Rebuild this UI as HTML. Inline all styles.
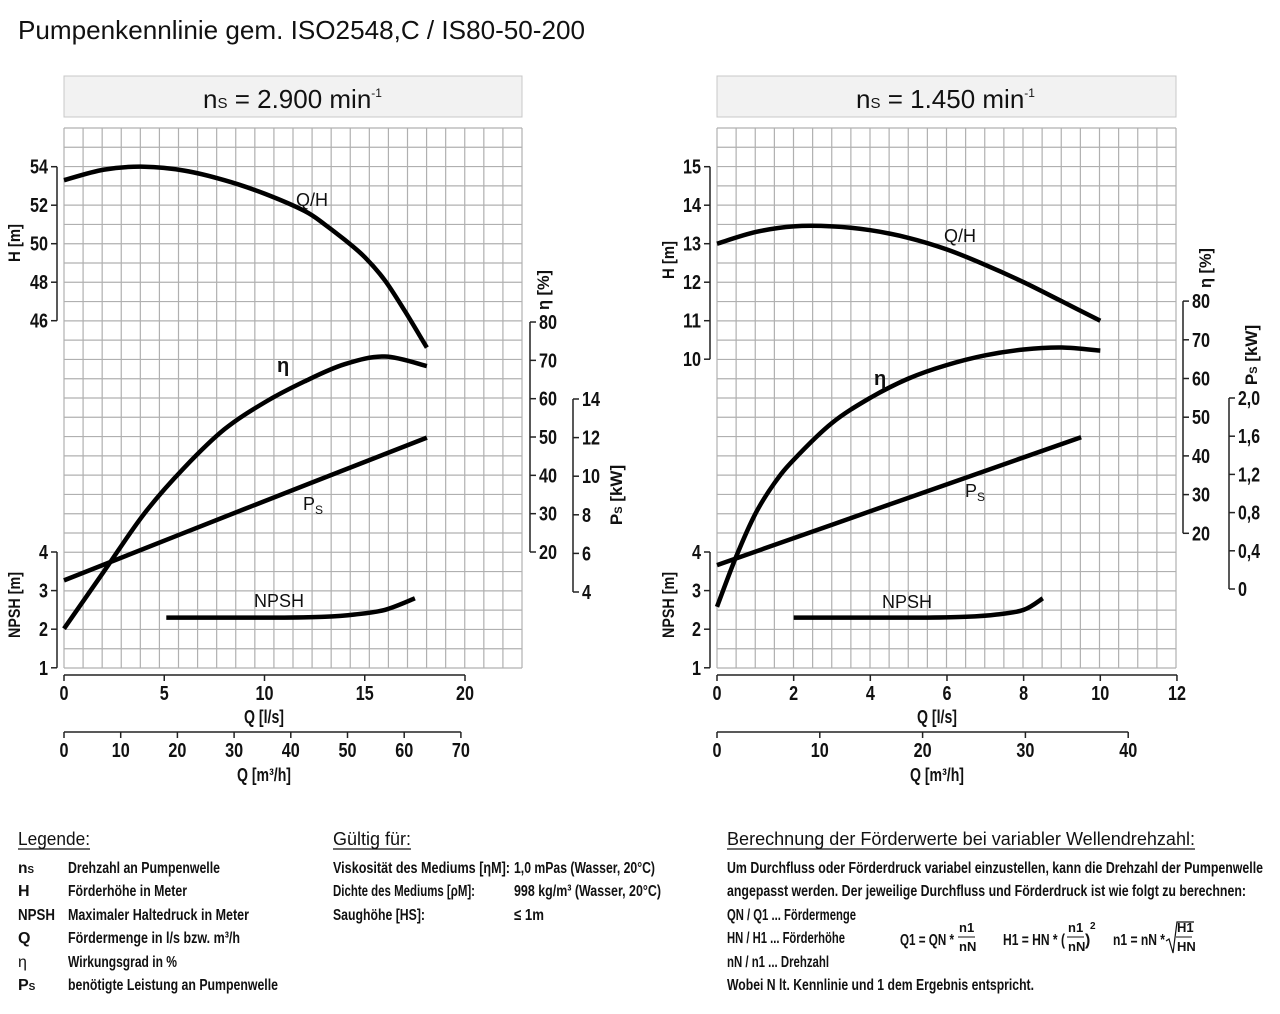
<!DOCTYPE html>
<html><head><meta charset="utf-8"><style>
html,body{margin:0;padding:0;background:#fff;}
svg text{font-family:"Liberation Sans",sans-serif;fill:#111;}
.b{font-weight:bold;}
</style></head><body>
<svg id="root" width="1280" height="1009" viewBox="0 0 1280 1009" xmlns="http://www.w3.org/2000/svg">
<text x="18" y="39" font-size="26" textLength="567" lengthAdjust="spacingAndGlyphs">Pumpenkennlinie gem. ISO2548,C / IS80-50-200</text>

<rect x="64" y="76" width="458" height="41" fill="#f2f2f2" stroke="#c8c8c8"/>
<text x="203" y="108" font-size="26">n<tspan font-size="15">S</tspan> = 2.900 min<tspan font-size="12" dy="-11">-1</tspan></text>
<rect x="717" y="76" width="459" height="41" fill="#f2f2f2" stroke="#c8c8c8"/>
<text x="856" y="108" font-size="26">n<tspan font-size="15">S</tspan> = 1.450 min<tspan font-size="12" dy="-11">-1</tspan></text>

<g id="charts"></g>

<g>
<text x="18" y="845" font-size="18" textLength="72" lengthAdjust="spacingAndGlyphs">Legende:</text>
<line x1="18" y1="849" x2="90" y2="849" stroke="#111" stroke-width="1.2"/>
<g class="b" font-size="16">
<text x="18" y="873" textLength="16" lengthAdjust="spacingAndGlyphs">n<tspan font-size="10">S</tspan></text><text x="68" y="873" textLength="152" lengthAdjust="spacingAndGlyphs">Drehzahl an Pumpenwelle</text>
<text x="18" y="896">H</text><text x="68" y="896" textLength="119" lengthAdjust="spacingAndGlyphs">Förderhöhe in Meter</text>
<text x="18" y="920" textLength="37" lengthAdjust="spacingAndGlyphs">NPSH</text><text x="68" y="920" textLength="181" lengthAdjust="spacingAndGlyphs">Maximaler Haltedruck in Meter</text>
<text x="18" y="943">Q</text><text x="68" y="943" textLength="172" lengthAdjust="spacingAndGlyphs">Fördermenge in l/s bzw. m³/h</text>
<text x="18" y="967" font-weight="normal">η</text><text x="68" y="967" textLength="109" lengthAdjust="spacingAndGlyphs">Wirkungsgrad in %</text>
<text x="18" y="990">P<tspan font-size="10">S</tspan></text><text x="68" y="990" textLength="210" lengthAdjust="spacingAndGlyphs">benötigte Leistung an Pumpenwelle</text>
</g>
<text x="333" y="845" font-size="18" textLength="78" lengthAdjust="spacingAndGlyphs">Gültig für:</text>
<line x1="333" y1="849" x2="411" y2="849" stroke="#111" stroke-width="1.2"/>
<g class="b" font-size="16">
<text x="333" y="873" textLength="177" lengthAdjust="spacingAndGlyphs">Viskosität des Mediums [ηM]:</text><text x="514" y="873" textLength="141" lengthAdjust="spacingAndGlyphs">1,0 mPas (Wasser, 20°C)</text>
<text x="333" y="896" textLength="142" lengthAdjust="spacingAndGlyphs">Dichte des Mediums [ρM]:</text><text x="514" y="896" textLength="147" lengthAdjust="spacingAndGlyphs">998 kg/m³ (Wasser, 20°C)</text>
<text x="333" y="920" textLength="92" lengthAdjust="spacingAndGlyphs">Saughöhe [HS]:</text><text x="514" y="920" textLength="30" lengthAdjust="spacingAndGlyphs">≤ 1m</text>
</g>
<text x="727" y="845" font-size="18" textLength="468" lengthAdjust="spacingAndGlyphs">Berechnung der Förderwerte bei variabler Wellendrehzahl:</text>
<line x1="727" y1="849" x2="1195" y2="849" stroke="#111" stroke-width="1.2"/>
<g class="b" font-size="16">
<text x="727" y="873" textLength="536" lengthAdjust="spacingAndGlyphs">Um Durchfluss oder Förderdruck variabel einzustellen, kann die Drehzahl der Pumpenwelle</text>
<text x="727" y="896" textLength="519" lengthAdjust="spacingAndGlyphs">angepasst werden. Der jeweilige Durchfluss und Förderdruck ist wie folgt zu berechnen:</text>
<text x="727" y="920" textLength="129" lengthAdjust="spacingAndGlyphs">QN / Q1 ... Fördermenge</text>
<text x="727" y="943" textLength="118" lengthAdjust="spacingAndGlyphs">HN / H1 ... Förderhöhe</text>
<text x="727" y="967" textLength="102" lengthAdjust="spacingAndGlyphs">nN / n1 ... Drehzahl</text>
<text x="727" y="990" textLength="307" lengthAdjust="spacingAndGlyphs">Wobei N lt. Kennlinie und 1 dem Ergebnis entspricht.</text>
<text x="900" y="945" textLength="54" lengthAdjust="spacingAndGlyphs">Q1 = QN *</text><text x="959" y="932" font-size="13">n1</text><line x1="958" y1="937" x2="975" y2="937" stroke="#111"/><text x="959" y="951" font-size="13">nN</text>
<text x="1003" y="945" textLength="62" lengthAdjust="spacingAndGlyphs">H1 = HN * (</text><text x="1068" y="932" font-size="13">n1</text><line x1="1067" y1="937" x2="1084" y2="937" stroke="#111"/><text x="1068" y="951" font-size="13">nN</text><text x="1085" y="945">)</text><text x="1090" y="929" font-size="10">2</text>
<text x="1113" y="945" textLength="52" lengthAdjust="spacingAndGlyphs">n1 = nN *</text><path d="M1166 941 l3 -2 l4 14 l4 -31 h17" fill="none" stroke="#111" stroke-width="1.2"/><text x="1177" y="932" font-size="13">H1</text><line x1="1176" y1="937" x2="1192" y2="937" stroke="#111"/><text x="1177" y="951" font-size="13">HN</text>
</g>
</g>
</svg>

<script>
// ---------- data: left chart (2.900 min-1), Q in l/s ----------
const leftHQ = [0, 2, 4, 6, 8, 10, 12, 13, 14, 15, 16, 17, 18.1];
const leftH = [53.3, 53.85, 54.0, 53.8, 53.3, 52.6, 51.7, 51.0, 50.2, 49.3, 48.1, 46.5, 44.6];
const leftEtaQ = [0, 2, 4, 6, 8, 10, 12, 14, 16, 18.1];
const leftEta = [0, 15, 30, 42, 52, 59, 64.5, 69, 71, 68.5];
const leftPsQ = [0, 9, 18.1];
const leftPs = [4.6, 8.3, 12.0];
const leftNpshQ = [5.1, 8, 11, 13, 14.5, 16, 17.5];
const leftNpsh = [2.3, 2.3, 2.3, 2.32, 2.38, 2.5, 2.8];
const leftQTicks = ["0","5","10","15","20"];
const leftM3Ticks = ["0","10","20","30","40","50","60","70"];
const leftHTicks = ["54","52","50","48","46"];
const leftEtaTicks = ["80","70","60","50","40","30","20"];
const leftPsTicks = ["14","12","10","8","6","4"];
const npshTicks = ["4","3","2","1"];
// ---------- data: right chart (1.450 min-1) ----------
const rightHQ = [0, 1, 2, 3, 4, 5, 6, 7, 8, 9, 10];
const rightH = [13.0, 13.3, 13.45, 13.45, 13.35, 13.15, 12.85, 12.45, 12.0, 11.5, 11.0];
const rightEtaQ = [0, 0.5, 1, 1.5, 2, 3, 4, 5, 6, 7, 8, 9, 10];
const rightEta = [1, 14, 25, 33, 39, 48.5, 55, 60, 63.5, 66, 67.5, 68, 67.2];
const rightPsQ = [0, 4.75, 9.5];
const rightPs = [0.25, 0.92, 1.59];
const rightNpshQ = [2, 4, 5.5, 6.5, 7.3, 8, 8.5];
const rightNpsh = [2.3, 2.3, 2.3, 2.32, 2.38, 2.5, 2.8];
const rightQTicks = ["0","2","4","6","8","10","12"];
const rightM3Ticks = ["0","10","20","30","40"];
const rightHTicks = ["15","14","13","12","11","10"];
const rightEtaTicks = ["80","70","60","50","40","30","20"];
const rightPsTicks = ["2,0","1,6","1,2","0,8","0,4","0"];

const NS = "http://www.w3.org/2000/svg";
const root = document.getElementById('charts');
function mk(tag, attrs, parent) {
  const e = document.createElementNS(NS, tag);
  for (const k in attrs) e.setAttribute(k, attrs[k]);
  (parent || root).appendChild(e);
  return e;
}
function txt(s, attrs, parent) { const t = mk('text', attrs, parent); t.textContent = s; return t; }
function smooth(pts) {
  let d = 'M' + pts[0][0].toFixed(1) + ' ' + pts[0][1].toFixed(1);
  for (let i = 0; i < pts.length - 1; i++) {
    const p0 = pts[i - 1] || pts[i], p1 = pts[i], p2 = pts[i + 1], p3 = pts[i + 2] || p2;
    const c1 = [p1[0] + (p2[0] - p0[0]) / 6, p1[1] + (p2[1] - p0[1]) / 6];
    const c2 = [p2[0] - (p3[0] - p1[0]) / 6, p2[1] - (p3[1] - p1[1]) / 6];
    d += ` C${c1[0].toFixed(1)} ${c1[1].toFixed(1)} ${c2[0].toFixed(1)} ${c2[1].toFixed(1)} ${p2[0].toFixed(1)} ${p2[1].toFixed(1)}`;
  }
  return d;
}

function drawChart(c) {
  const g = mk('g', {});
  
  
  const grid = mk('g', {stroke: '#b0b0b0', 'stroke-width': 1.2}, g);
  
  
  const gw = (c.gx1 - c.gx0) / 24, gh = (668 - 128) / 28;
  for (let i = 0; i <= 24; i++) mk('line', {x1: c.gx0 + i * gw, y1: 128, x2: c.gx0 + i * gw, y2: 668}, grid);
  for (let j = 0; j <= 28; j++) mk('line', {x1: c.gx0, y1: 128 + j * gh, x2: c.gx1, y2: 128 + j * gh}, grid);

  const ax = mk('g', {stroke: '#222', 'stroke-width': 1.5, fill: 'none'}, g);
  const lab = mk('g', {'font-size': 20, 'font-weight': 'bold'}, g);
  function vaxis(name, x, ticks, yOf, vals, side, lx) {
    const a = mk('g', {}, ax);
    
    
    mk('line', {x1: x, y1: yOf(vals[0]), x2: x, y2: yOf(vals[vals.length - 1])}, a);
    ticks.forEach((t, i) => {
      const y = yOf(vals[i]);
      mk('line', {x1: x, y1: y, x2: x + side * 6, y2: y}, a);
      const w = t.replace(',', '').length * 9 + (t.includes(',') ? 4 : 0);
      const tt = txt(t, {x: lx, y: y + 7, 'text-anchor': side < 0 ? 'end' : 'start', textLength: w, lengthAdjust: 'spacingAndGlyphs'}, lab);
      
      
    });
  }
  const num = s => parseFloat(s.replace(',', '.'));
  vaxis('h-axis', c.hx, c.hTicks, c.yH, c.hTicks.map(num), -1, c.hx - 9);
  vaxis('npsh-axis', c.hx, npshTicks, c.yN, npshTicks.map(num), -1, c.hx - 9);
  vaxis('eta-axis', c.ex, c.eTicks, c.yE, c.eTicks.map(num), 1, c.ex + 9);
  vaxis('ps-axis', c.px, c.pTicks, c.yP, c.pTicks.map(num), 1, c.px + 9);
  function haxis(name, y, ticks, xOf) {
    const a = mk('g', {}, ax);
    
    
    const v = ticks.map(num);
    mk('line', {x1: xOf(v[0]), y1: y, x2: xOf(v[v.length - 1]), y2: y}, a);
    ticks.forEach((t, i) => {
      const x = xOf(v[i]);
      mk('line', {x1: x, y1: y, x2: x, y2: y + 6}, a);
      const tt = txt(t, {x: x, y: y + 25, 'text-anchor': 'middle', textLength: t.length * 9, lengthAdjust: 'spacingAndGlyphs'}, lab);
      
      
    });
  }
  haxis('q-ls-axis', 675, c.qTicks, c.xQ);
  haxis('q-m3h-axis', 732, c.m3Ticks, c.xM3);
  const t1 = txt('Q [l/s]', {x: c.qTitleX, y: 723, 'text-anchor': 'middle', 'font-size': 18, 'font-weight': 'bold', textLength: 40, lengthAdjust: 'spacingAndGlyphs'});
  
  
  const t2 = txt('Q [m³/h]', {x: c.qTitleX, y: 781, 'text-anchor': 'middle', 'font-size': 18, 'font-weight': 'bold', textLength: 54, lengthAdjust: 'spacingAndGlyphs'});
  
  
  function rot(s, x, y, name, len) {
    const t = txt(s, {x: 0, y: 0, transform: `translate(${x},${y}) rotate(-90)`, 'text-anchor': 'middle', 'font-size': 17, 'font-weight': 'bold', textLength: len, lengthAdjust: 'spacingAndGlyphs'});
    
    
  }
  rot('H [m]', c.hLabX, c.hLabY, 'h-axis-title', 38);
  rot('NPSH [m]', c.hLabX, 605, 'npsh-axis-title', 66);
  rot('η [%]', c.eLabX, c.eLabY, 'eta-axis-title', 40);
  const pt = txt('', {x: 0, y: 0, transform: `translate(${c.pLabX},${c.pLabY}) rotate(-90)`, 'text-anchor': 'middle', 'font-size': 17, 'font-weight': 'bold'});
  pt.innerHTML = 'P<tspan font-size="11">S</tspan> [kW]';
  
  

  function series(name, qs, vs, yOf) {
    const p = mk('path', {d: smooth(qs.map((q, i) => [c.xQ(q), yOf(vs[i])])), fill: 'none', stroke: '#000', 'stroke-width': 4.5, 'stroke-linecap': 'butt'}, g);
    
    
  }
  series('qh-curve', c.hQ, c.h, c.yH);
  series('efficiency-curve', c.etaQ, c.eta, c.yE);
  series('power-curve', c.psQ, c.ps, c.yP);
  series('npsh-curve', c.npQ, c.np, c.yN);
  const cl = mk('g', {'font-size': 18}, g);
  function clab(s, x, y, name, extra) {
    const t = txt(s, Object.assign({x: x, y: y}, extra || {}), cl);
    
    
    return t;
  }
  clab('Q/H', c.lab.qh[0], c.lab.qh[1], 'qh-label');
  clab('η', c.lab.eta[0], c.lab.eta[1], 'eta-label', {'font-weight': 'bold', 'font-size': 20});
  const pl = clab('', c.lab.ps[0], c.lab.ps[1], 'ps-label');
  pl.innerHTML = 'P<tspan font-size="12" dy="4">S</tspan>';
  clab('NPSH', c.lab.np[0], c.lab.np[1], 'npsh-label');
}

drawChart({
  name: 'chart-2900rpm', gx0: 64, gx1: 522,
  xQ: q => 64 + q * 20.05, xM3: m => 64 + m * 5.67,
  yH: h => 166.7 + (54 - h) * 19.25, yN: n => 552 + (4 - n) * 38.6,
  yE: e => 552 - (e - 20) * 3.833, yP: p => 592 - (p - 4) * 19.3,
  hx: 57, ex: 530, px: 573,
  hTicks: leftHTicks, eTicks: leftEtaTicks, pTicks: leftPsTicks,
  qTicks: leftQTicks, m3Ticks: leftM3Ticks, qTitleX: 264,
  hLabX: 20, hLabY: 243, eLabX: 549, eLabY: 290, pLabX: 622, pLabY: 495,
  hQ: leftHQ, h: leftH, etaQ: leftEtaQ, eta: leftEta, psQ: leftPsQ, ps: leftPs, npQ: leftNpshQ, np: leftNpsh,
  lab: {qh: [296, 206], eta: [277, 372], ps: [303, 510], np: [254, 607]}
});
drawChart({
  name: 'chart-1450rpm', gx0: 717, gx1: 1176,
  xQ: q => 717 + q * 38.33, xM3: m => 717 + m * 10.28,
  yH: h => 166.7 + (15 - h) * 38.5, yN: n => 552 + (4 - n) * 38.6,
  yE: e => 533.3 - (e - 20) * 3.87, yP: p => 589 - p * 95.5,
  hx: 710, ex: 1183, px: 1229,
  hTicks: rightHTicks, eTicks: rightEtaTicks, pTicks: rightPsTicks,
  qTicks: rightQTicks, m3Ticks: rightM3Ticks, qTitleX: 937,
  hLabX: 674, hLabY: 260, eLabX: 1211, eLabY: 268, pLabX: 1257, pLabY: 355,
  hQ: rightHQ, h: rightH, etaQ: rightEtaQ, eta: rightEta, psQ: rightPsQ, ps: rightPs, npQ: rightNpshQ, np: rightNpsh,
  lab: {qh: [944, 242], eta: [874, 385], ps: [965, 497], np: [882, 608]}
});
</script>
</body></html>
